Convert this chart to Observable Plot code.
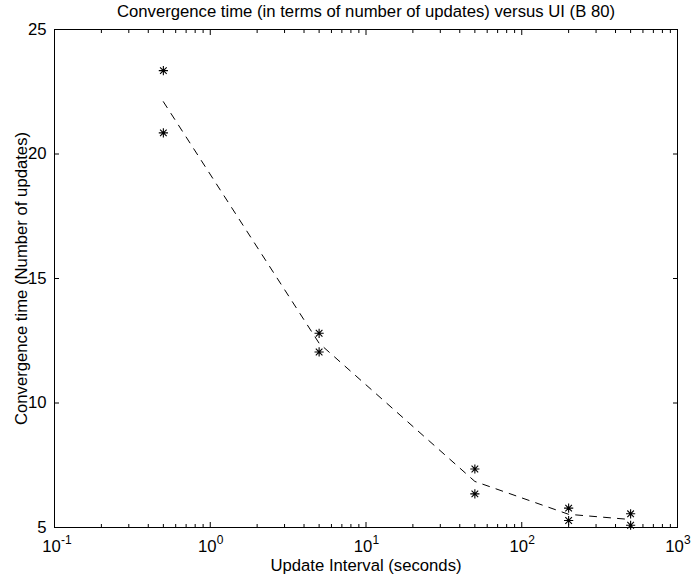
<!DOCTYPE html>
<html>
<head>
<meta charset="utf-8">
<script src="https://cdn.jsdelivr.net/npm/d3@7"></script>
<script src="https://cdn.jsdelivr.net/npm/@observablehq/plot@0.6"></script>
<style>
  html, body { margin: 0; padding: 0; background: #fff; }
  #chart svg { display: block; }
</style>
</head>
<body>
<div id="chart"></div>
<script>
// Update interval (seconds) for each experiment
const intervals = [0.5, 5, 50, 200, 500];
// Convergence time (number of updates), two runs per interval
const runHigh = [23.35, 12.8, 7.35, 5.78, 5.55];
const runLow = [20.85, 12.05, 6.35, 5.28, 5.09];
// Average convergence time per interval (dashed curve)
const avgTime = [22.1, 12.4, 6.85, 5.53, 5.32];

// Axis ticks
const xDecades = [0.1, 1, 10, 100, 1000];
const xExponents = ["-1", "0", "1", "2", "3"];
const xMinor = [];
for (const d of [0.1, 1, 10, 100]) for (let k = 2; k <= 9; k++) xMinor.push(d * k);
const yTicks = [5, 10, 15, 20, 25];

const titleText = "Convergence time (in terms of number of updates) versus UI (B 80)";
const xLabelText = "Update Interval (seconds)";
const yLabelText = "Convergence time (Number of updates)";

const points = intervals.flatMap((x, i) => [
  {x, y: runHigh[i]},
  {x, y: runLow[i]}
]);
const curve = intervals.map((x, i) => ({x, y: avgTime[i]}));
const decades = xDecades.map((v, i) => ({v, e: xExponents[i]}));

// Eight-spoked asterisk marker (plus and cross overlaid)
const asterisk = {
  draw(ctx, size) {
    const r = Math.sqrt(size / Math.PI);
    const d = r * 0.72;
    ctx.moveTo(-r, 0); ctx.lineTo(r, 0);
    ctx.moveTo(0, -r); ctx.lineTo(0, r);
    ctx.moveTo(-d, -d); ctx.lineTo(d, d);
    ctx.moveTo(-d, d); ctx.lineTo(d, -d);
  }
};

const font = "'Liberation Sans', Arial, Helvetica, sans-serif";
const fs = 16.7;

const chart = Plot.plot({
  width: 693,
  height: 575,
  marginLeft: 54,
  marginRight: 16,
  marginTop: 29,
  marginBottom: 48,
  style: {fontFamily: font, fontSize: fs + "px", color: "black", background: "white"},
  x: {type: "log", domain: [0.1, 1000]},
  y: {domain: [5, 25]},
  marks: [
    // inward ticks on all four sides
    Plot.axisX({anchor: "bottom", ticks: xMinor, tickSize: -3, tickFormat: () => "", label: null}),
    Plot.axisX({anchor: "bottom", ticks: xDecades, tickSize: -5, tickFormat: () => "", label: null}),
    Plot.axisX({anchor: "top", ticks: xMinor, tickSize: -3, tickFormat: () => "", label: null}),
    Plot.axisX({anchor: "top", ticks: xDecades, tickSize: -5, tickFormat: () => "", label: null}),
    Plot.axisY({anchor: "left", ticks: yTicks, tickSize: -5, tickFormat: () => "", label: null}),
    Plot.axisY({anchor: "right", ticks: yTicks, tickSize: -5, tickFormat: () => "", label: null}),
    // y tick labels
    Plot.axisY({anchor: "left", ticks: yTicks, tickSize: 0, tickPadding: 8, label: null, fontSize: fs}),
    // x tick labels: base 10 with a raised exponent
    Plot.text(decades, {x: "v", frameAnchor: "bottom", lineAnchor: "middle", text: () => "10", dy: 19, dx: -3, fontSize: fs}),
    Plot.text(decades, {x: "v", frameAnchor: "bottom", lineAnchor: "middle", text: "e", dy: 13, dx: 6.5, textAnchor: "start", fontSize: 12}),
    Plot.frame({stroke: "black", strokeWidth: 1}),
    // dashed average curve
    Plot.line(curve, {x: "x", y: "y", stroke: "black", strokeWidth: 1, strokeDasharray: "7,7"}),
    // measured points
    Plot.dot(points, {x: "x", y: "y", symbol: asterisk, r: 4.6, stroke: "black", strokeWidth: 1.1, fill: "none"}),
    // title and axis labels
    Plot.text([titleText], {frameAnchor: "top", lineAnchor: "middle", textAnchor: "middle", dy: -18, fontSize: fs}),
    Plot.text([xLabelText], {frameAnchor: "bottom", lineAnchor: "middle", textAnchor: "middle", dy: 38, fontSize: fs}),
    Plot.text([yLabelText], {frameAnchor: "left", lineAnchor: "middle", textAnchor: "middle", dx: -33, rotate: -90, fontSize: fs})
  ]
});

document.getElementById("chart").appendChild(chart);
</script>
</body>
</html>
